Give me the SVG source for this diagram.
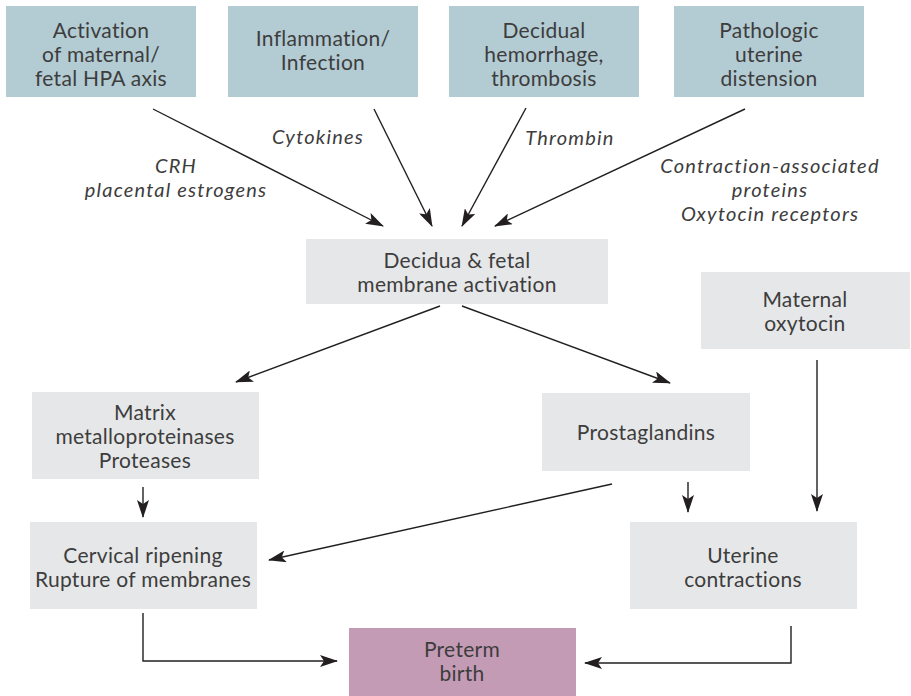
<svg xmlns="http://www.w3.org/2000/svg" width="911" height="696" viewBox="0 0 911 696">
<style>
.t{font-family:Lato,"Noto Sans","Liberation Sans",sans-serif;font-size:21px;fill:#3d3d3d;text-anchor:middle;letter-spacing:0.3px}
.i{font-style:italic;font-size:20px;letter-spacing:1.2px}
.blue{fill:#b3cbd3}
.gray{fill:#e6e7e8}
.pink{fill:#c49bb5}
.c{stroke:#231f20;stroke-width:1.4;fill:none;marker-end:url(#ah)}
</style>
<defs>
<marker id="ah" markerUnits="userSpaceOnUse" markerWidth="18" markerHeight="12" viewBox="0 0 18 12" refX="17" refY="6" orient="auto">
<path d="M0,0 L18,6 L0,12 L4,6 Z" fill="#231f20"/>
</marker>
</defs>
<g id="hpa"><rect class="blue" x="6" y="6" width="190" height="91"/>
<text class="t" x="101" y="38">Activation</text><text class="t" x="101" y="62">of maternal/</text><text class="t" x="101" y="86">fetal HPA axis</text></g>
<g id="inflammation"><rect class="blue" x="228" y="6" width="190" height="91"/>
<text class="t" x="323" y="46">Inflammation/</text><text class="t" x="323" y="70">Infection</text></g>
<g id="hemorrhage"><rect class="blue" x="449" y="6" width="190" height="91"/>
<text class="t" x="544" y="38">Decidual</text><text class="t" x="544" y="62">hemorrhage,</text><text class="t" x="544" y="86">thrombosis</text></g>
<g id="distension"><rect class="blue" x="674" y="6" width="190" height="91"/>
<text class="t" x="769" y="38">Pathologic</text><text class="t" x="769" y="62">uterine</text><text class="t" x="769" y="86">distension</text></g>
<g id="labels">
<text class="t i" x="176" y="173">CRH</text><text class="t i" x="176" y="197">placental estrogens</text>
<text class="t i" x="318" y="144">Cytokines</text>
<text class="t i" x="570" y="145">Thrombin</text>
<text class="t i" x="770" y="173">Contraction-associated</text><text class="t i" x="770" y="197">proteins</text><text class="t i" x="770" y="221">Oxytocin receptors</text>
</g>
<g id="decidua"><rect class="gray" x="306" y="239" width="302" height="65"/>
<text class="t" x="457" y="268">Decidua &amp; fetal</text><text class="t" x="457" y="292">membrane activation</text></g>
<g id="oxytocin"><rect class="gray" x="701" y="272" width="209" height="77"/>
<text class="t" x="805" y="307">Maternal</text><text class="t" x="805" y="331">oxytocin</text></g>
<g id="matrix"><rect class="gray" x="32" y="392" width="227" height="87"/>
<text class="t" x="145" y="420">Matrix</text><text class="t" x="145" y="444">metalloproteinases</text><text class="t" x="145" y="468">Proteases</text></g>
<g id="prostaglandins"><rect class="gray" x="542" y="393" width="208" height="78"/>
<text class="t" x="646" y="440">Prostaglandins</text></g>
<g id="cervical"><rect class="gray" x="30" y="522" width="227" height="87"/>
<text class="t" x="143" y="563">Cervical ripening</text><text class="t" x="143" y="587">Rupture of membranes</text></g>
<g id="uterine"><rect class="gray" x="630" y="522" width="227" height="87"/>
<text class="t" x="743" y="563">Uterine</text><text class="t" x="743" y="587">contractions</text></g>
<g id="preterm"><rect class="pink" x="349" y="628" width="227" height="68"/>
<text class="t" x="462" y="657">Preterm</text><text class="t" x="462" y="681">birth</text></g>
<g id="connectors">
<line class="c" x1="153" y1="109" x2="383" y2="226"/>
<line class="c" x1="374" y1="109" x2="432" y2="226"/>
<line class="c" x1="526" y1="108" x2="462" y2="226"/>
<line class="c" x1="745" y1="109" x2="495" y2="226"/>
<line class="c" x1="440" y1="306" x2="236" y2="382"/>
<line class="c" x1="462" y1="306" x2="670" y2="383"/>
<line class="c" x1="143" y1="487" x2="143" y2="517"/>
<line class="c" x1="688" y1="482" x2="688" y2="512"/>
<line class="c" x1="817" y1="360" x2="817" y2="511"/>
<line class="c" x1="612" y1="484" x2="269" y2="560"/>
<polyline class="c" points="143,613 143,661 337,661"/>
<polyline class="c" points="791,626 791,663 585,663"/>
</g>
</svg>
